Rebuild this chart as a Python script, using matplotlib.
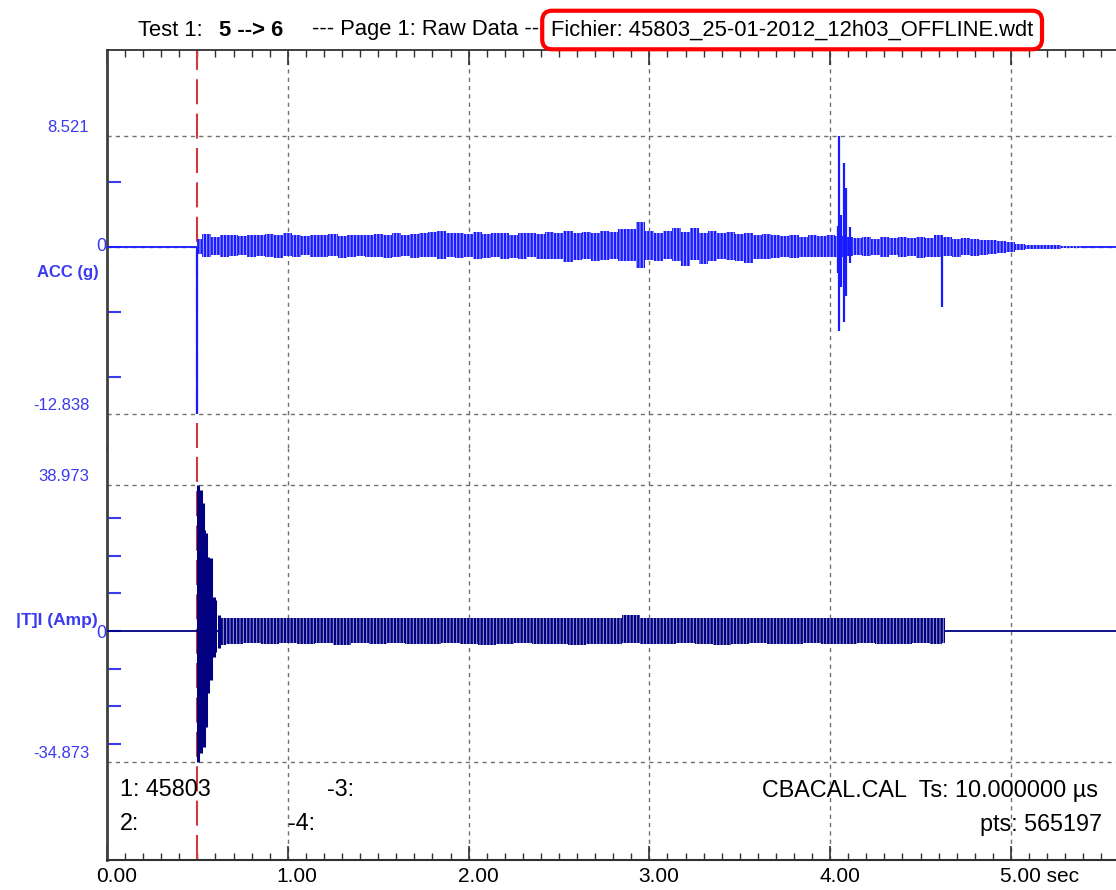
import matplotlib
matplotlib.use("Agg")
import matplotlib.pyplot as plt
from matplotlib.transforms import ScaledTranslation

plt.rcParams["font.family"] = ["Liberation Sans", "DejaVu Sans"]
plt.rcParams["hatch.linewidth"] = 1.7

# ---- data ----
# ACC (g): envelope of the vibration band, every 0.05 s
acc_t = [0.50, 0.55, 0.60, 0.65, 0.70, 0.75, 0.80, 0.85, 0.90, 0.95,
         1.00, 1.05, 1.10, 1.15, 1.20, 1.25, 1.30, 1.35, 1.40, 1.45,
         1.50, 1.55, 1.60, 1.65, 1.70, 1.75, 1.80, 1.85, 1.90, 1.95,
         2.00, 2.05, 2.10, 2.15, 2.20, 2.25, 2.30, 2.35, 2.40, 2.45,
         2.50, 2.55, 2.60, 2.65, 2.70, 2.75, 2.80, 2.85, 2.90, 2.95,
         3.00, 3.05, 3.10, 3.15, 3.20, 3.25, 3.30, 3.35, 3.40, 3.45,
         3.50, 3.55, 3.60, 3.65, 3.70, 3.75, 3.80, 3.85, 3.90, 3.95,
         4.00, 4.05, 4.10, 4.15, 4.20, 4.25, 4.30, 4.35, 4.40, 4.45,
         4.50, 4.55, 4.60, 4.65, 4.70, 4.75, 4.80, 4.85, 4.90, 4.95,
         5.00, 5.05, 5.10, 5.15, 5.20, 5.25, 5.30, 5.35, 5.40]
acc_hi = [0.65, 1.00, 0.80, 0.90, 0.95, 0.85, 0.95, 0.90, 1.00, 0.90,
          1.05, 0.90, 0.85, 0.95, 0.90, 1.00, 0.85, 0.95, 0.90, 0.95,
          1.00, 0.90, 1.05, 0.95, 1.00, 1.10, 1.15, 1.20, 1.05, 1.10,
          1.00, 1.15, 1.00, 1.05, 1.10, 0.95, 1.05, 1.10, 1.00, 1.15,
          1.05, 1.20, 1.10, 1.15, 1.10, 1.25, 1.15, 1.35, 1.40, 1.90,
          1.20, 1.10, 1.25, 1.45, 1.15, 1.45, 1.10, 1.20, 1.05, 1.15,
          1.00, 1.10, 0.95, 1.00, 0.90, 0.85, 0.95, 0.80, 0.90, 0.85,
          0.95, 0.85, 0.80, 0.70, 0.75, 0.65, 0.80, 0.70, 0.75, 0.70,
          0.75, 0.70, 0.90, 0.80, 0.65, 0.70, 0.60, 0.55, 0.55, 0.45,
          0.35, 0.25, 0.15, 0.15, 0.12, 0.12, 0.10, 0.10, 0.05]
acc_lo = [-0.55, -0.80, -0.60, -0.75, -0.70, -0.65, -0.80, -0.70, -0.75, -0.85,
          -0.70, -0.80, -0.65, -0.75, -0.80, -0.70, -0.85, -0.75, -0.70, -0.80,
          -0.75, -0.85, -0.80, -0.70, -0.85, -0.80, -0.75, -0.90, -0.80, -0.85,
          -0.80, -0.90, -0.85, -0.80, -0.95, -0.85, -0.90, -0.80, -0.95, -0.90,
          -0.95, -1.15, -1.00, -0.95, -1.05, -1.00, -0.95, -1.10, -1.05, -1.60,
          -1.00, -1.05, -0.95, -1.10, -1.45, -1.00, -1.30, -1.05, -0.95, -1.00,
          -1.05, -1.20, -0.95, -0.90, -0.85, -0.80, -0.85, -0.75, -0.80, -0.75,
          -0.80, -0.75, -0.70, -0.65, -0.70, -0.60, -0.75, -0.65, -0.80, -0.70,
          -0.85, -0.75, -0.80, -0.70, -0.75, -0.65, -0.70, -0.60, -0.55, -0.45,
          -0.35, -0.25, -0.18, -0.15, -0.15, -0.12, -0.10, -0.08, -0.05]
# ACC spikes: time (s), peak, trough
acc_spike_t = [0.500, 4.043, 4.050, 4.060, 4.076, 4.085, 4.110, 4.618]
acc_spike_hi = [0.0, 1.60, 8.521, 2.46, 6.47, 4.50, 1.50, 0.80]
acc_spike_lo = [-12.838, -2.00, -6.43, -3.05, -5.80, -3.76, -1.20, -4.58]

# I (Amp): start-up burst, then steady band
i_burst_t = [0.503, 0.510, 0.520, 0.531, 0.536, 0.548, 0.559, 0.575, 0.592, 0.600, 0.619]
i_burst_hi = [38.97, 30.0, 37.5, 34.0, 27.0, 26.0, 19.8, 19.5, 9.0, 8.3, 4.3]
i_burst_lo = [-34.87, -31.7, -32.5, -25.6, -31.0, -25.5, -16.5, -13.0, -6.9, -5.5, -4.5]

i_t = [0.62, 0.70, 0.80, 0.90, 1.00, 1.10, 1.20, 1.30, 1.40, 1.50,
       1.60, 1.70, 1.80, 1.90, 2.00, 2.10, 2.20, 2.30, 2.40, 2.50,
       2.60, 2.70, 2.80, 2.90, 3.00, 3.10, 3.20, 3.30, 3.40, 3.50,
       3.60, 3.70, 3.80, 3.90, 4.00, 4.10, 4.20, 4.30, 4.40, 4.50,
       4.60, 4.635]
i_hi = [3.6, 3.4, 3.5, 3.4, 3.5, 3.4, 3.5, 3.4, 3.5, 3.4,
        3.5, 3.4, 3.5, 3.5, 3.4, 3.5, 3.6, 3.5, 3.4, 3.5,
        3.6, 3.5, 3.6, 4.2, 3.5, 3.6, 3.5, 3.4, 3.5, 3.5,
        3.4, 3.5, 3.4, 3.5, 3.4, 3.5, 3.6, 3.5, 3.4, 3.5,
        3.5, 3.4]
i_lo = [-3.8, -3.4, -3.3, -3.5, -3.3, -3.4, -3.3, -3.6, -3.3, -3.4,
        -3.3, -3.5, -3.4, -3.3, -3.5, -3.6, -3.4, -3.3, -3.5, -3.4,
        -3.6, -3.4, -3.5, -3.3, -3.4, -3.5, -3.3, -3.4, -3.6, -3.4,
        -3.3, -3.5, -3.4, -3.3, -3.4, -3.5, -3.3, -3.4, -3.5, -3.3,
        -3.4, -3.3]

x_ticks = [0, 1, 2, 3, 4, 5]
x_labels = ["0.00", "1.00", "2.00", "3.00", "4.00", "5.00 sec"]
acc_marks = [8.521, -12.838]
i_marks = [38.973, -34.873]
trigger_t = 0.50

# ---- styling ----
W, H = 1116, 890
BLUE = "#1a1aff"
NAVY = "#000080"
LABEL = "#3a3af0"
GRID = "#707070"
RED = "#d03a3a"
X_MAX = 5.581


def fx(px):
    return px / W


def fy(py):
    return 1 - py / H


fig = plt.figure(figsize=(W / 100, H / 100), dpi=100)
left = fx(107)
width = 1 - left
ax_acc = fig.add_axes([left, fy(448), width, (448 - 50) / H])
ax_i = fig.add_axes([left, fy(860), width, (860 - 448) / H])

ax_acc.set_xlim(0, X_MAX)
ax_i.set_xlim(0, X_MAX)
ax_acc.set_ylim(-15.44, 15.13)
ax_i.set_ylim(-61.05, 48.79)

for ax in (ax_acc, ax_i):
    for s in ax.spines.values():
        s.set_visible(False)
    ax.spines["left"].set_visible(True)
    ax.spines["left"].set_color("#404040")
    ax.spines["left"].set_linewidth(2)
    ax.set_xticks(x_ticks)
    ax.set_xticks([k / 10 for k in range(0, 56)], minor=True)
    for xv in x_ticks[1:]:
        ax.axvline(xv, color=GRID, lw=1, dashes=(3, 3), zorder=1)
    ax.axvline(trigger_t, color=RED, lw=1.5, dashes=(12, 4.5), zorder=2)
    ax.tick_params(axis="y", which="major", direction="in", length=10,
                   width=1.5, color=LABEL, labelleft=False)

ax_acc.spines["top"].set_visible(True)
ax_acc.spines["top"].set_color("#303030")
ax_acc.spines["top"].set_linewidth(1.3)
ax_acc.tick_params(axis="x", which="both", direction="in", top=True, bottom=False,
                   labelbottom=False, labeltop=False, color="#303030")
ax_acc.tick_params(axis="x", which="major", length=11, width=1.2)
ax_acc.tick_params(axis="x", which="minor", length=5, width=1.0)

ax_i.spines["bottom"].set_visible(True)
ax_i.spines["bottom"].set_color("#303030")
ax_i.spines["bottom"].set_linewidth(1.5)
ax_i.tick_params(axis="x", which="both", direction="in", color="#303030",
                 labelsize=15, pad=5)
ax_i.tick_params(axis="x", which="major", length=10, width=1.2)
ax_i.tick_params(axis="x", which="minor", length=5, width=1.0)
ax_i.set_xticklabels(x_labels)
for lab in ax_i.get_xticklabels():
    lab.set_horizontalalignment("left")
    lab.set_transform(lab.get_transform() + ScaledTranslation(-0.11, 0, fig.dpi_scale_trans))

ax_acc.set_yticks([-10, -5, 0, 5])
ax_i.set_yticks([-30, -20, -10, 0, 10, 20, 30])

# horizontal reference lines
for yv in acc_marks + [0]:
    ax_acc.axhline(yv, color=GRID, lw=1, dashes=(3, 3), zorder=1)
for yv in i_marks:
    ax_i.axhline(yv, color=GRID, lw=1, dashes=(3, 3), zorder=1)

# ---- ACC signal ----
ax_acc.plot([0, X_MAX], [0, 0], color=BLUE, lw=1.3, zorder=3)
ax_acc.fill_between(acc_t, acc_lo, acc_hi, step="mid", facecolor="#b8b8ff",
                    edgecolor=BLUE, hatch="|||||", linewidth=0, zorder=3)
ax_acc.vlines(acc_spike_t, acc_spike_lo, acc_spike_hi, color=BLUE, lw=1.6, zorder=4)

# ---- I signal ----
ax_i.plot([0, X_MAX], [0, 0], color=NAVY, lw=1.3, zorder=3)
ax_i.fill_between(i_t, i_lo, i_hi, step="mid", facecolor="#a0a0d8",
                  edgecolor=NAVY, hatch="|||||", linewidth=0, zorder=3)
ax_i.vlines(i_burst_t, i_burst_lo, i_burst_hi, color=NAVY, lw=2.2, zorder=4)

# ---- y labels (drawn as text at their values) ----
ytf_acc = ax_acc.get_yaxis_transform()
ytf_i = ax_i.get_yaxis_transform()
off_up = ScaledTranslation(0, 0.01, fig.dpi_scale_trans)
for yv in acc_marks:
    ax_acc.text(-0.0175, yv, f"{yv:.3f}", transform=ytf_acc + off_up, ha="right",
                va="bottom", fontsize=12, color=LABEL)
for yv in i_marks:
    ax_i.text(-0.0175, yv, f"{yv:.3f}", transform=ytf_i + off_up, ha="right",
              va="bottom", fontsize=12, color=LABEL)
ax_acc.text(-0.001, 0, "0", transform=ytf_acc, ha="right", va="center",
            fontsize=13, color=LABEL)
ax_i.text(-0.001, 0, "0", transform=ytf_i + ScaledTranslation(0, -0.02, fig.dpi_scale_trans),
          ha="right", va="center", fontsize=13, color=LABEL)
fig.text(fx(99), fy(273), "ACC (g)", ha="right", va="center", fontsize=12,
         fontweight="bold", color=LABEL)
fig.text(fx(98), fy(621), "|T]I (Amp)", ha="right", va="center", fontsize=12.5,
         fontweight="bold", color=LABEL)

# ---- header ----
HDR = 15.8
fig.text(fx(138), fy(30), "Test 1:", ha="left", va="center", fontsize=HDR)
fig.text(fx(219), fy(30), "5 --> 6", ha="left", va="center", fontsize=HDR,
         fontweight="bold")
fig.text(fx(312), fy(30), "--- Page 1: Raw Data ---", ha="left", va="center",
         fontsize=HDR)
fig.text(fx(551), fy(30), "Fichier: 45803_25-01-2012_12h03_OFFLINE.wdt", ha="left",
         va="center", fontsize=HDR,
         bbox=dict(boxstyle="round,pad=0.4,rounding_size=0.45", facecolor="white",
                   edgecolor="#ff0000", linewidth=3))

# ---- footer info ----
fig.text(fx(120), fy(790), "1: 45803", ha="left", va="center", fontsize=16.8)
fig.text(fx(327), fy(790), "-3:", ha="left", va="center", fontsize=16.8)
fig.text(fx(120), fy(824), "2:", ha="left", va="center", fontsize=16.8)
fig.text(fx(288), fy(824), "-4:", ha="left", va="center", fontsize=16.8)
fig.text(fx(1098), fy(790), "CBACAL.CAL  Ts: 10.000000 \u00b5s", ha="right",
         va="center", fontsize=16.8)
fig.text(fx(1102), fy(824), "pts: 565197", ha="right", va="center", fontsize=16.8)

fig.savefig("out.png", dpi=100)
